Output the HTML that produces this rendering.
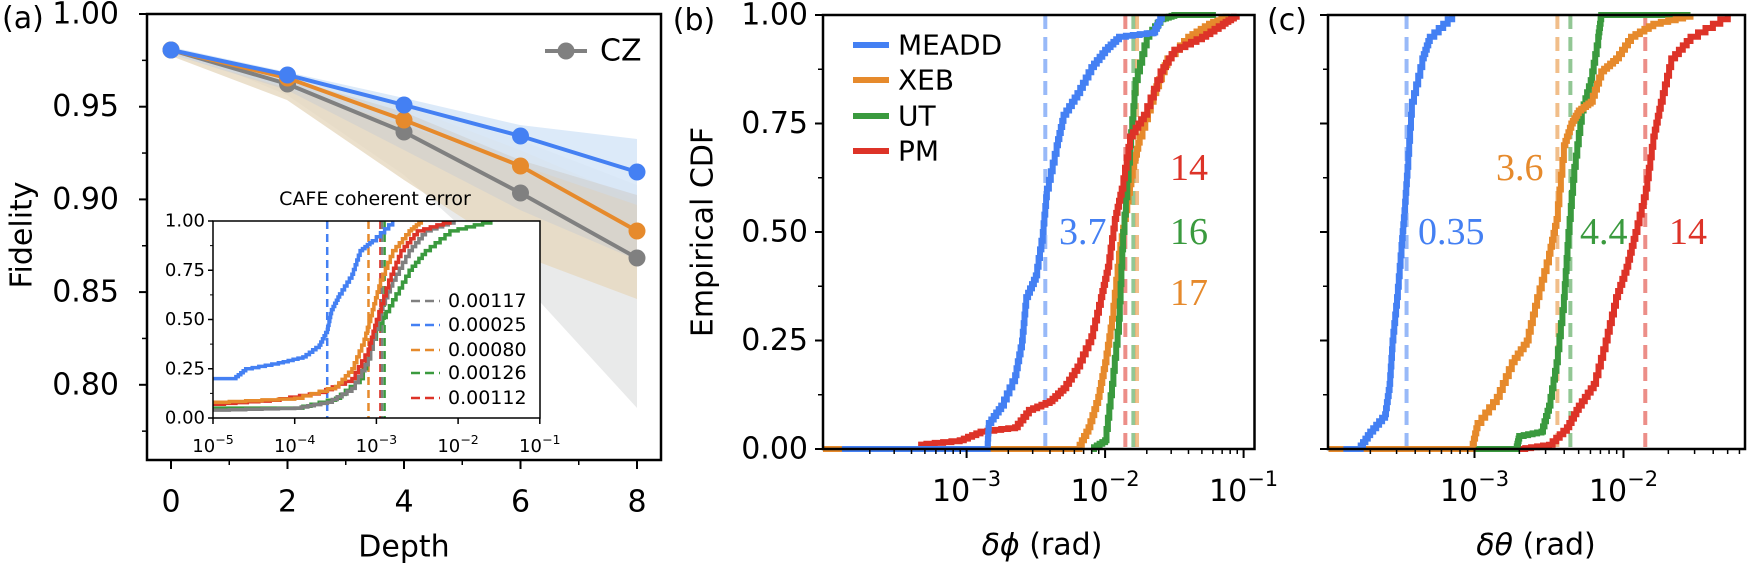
<!DOCTYPE html>
<html><head><meta charset="utf-8"><style>
html,body{margin:0;padding:0;background:#fff;}
svg{display:block;font-family:"DejaVu Sans","Liberation Sans",sans-serif;}
</style></head><body>
<svg id="s" width="1750" height="568" xmlns="http://www.w3.org/2000/svg">
<g id="bands">
<polygon points="171,47 287,95 404,175 520,280 637,408 637,185 520,140 404,104 287,75" fill="#e9eaea"/>
<polygon points="171,48 287,76 404,106 520,150 637,200 637,299 520,255 404,180 287,100 171,56" fill="#e6d8bf" opacity="0.8"/>
<polygon points="171,47 287,72 404,98 520,125 637,139 637,205 520,165 404,125 287,88 171,54" fill="#d6e6f8" opacity="0.85"/>
<polygon points="171,48 287,78 404,112 520,160 637,195 637,260 520,210 404,150 287,90 171,54" fill="#cfcfcf" opacity="0.6"/>
</g>
<text x="2" y="28" font-size="30">(a)</text>
<text x="694" y="30" font-size="30" text-anchor="middle">(b)</text>
<text x="1287" y="30" font-size="30" text-anchor="middle">(c)</text>
</svg>
<script>
const S=document.getElementById('s');const NS='http://www.w3.org/2000/svg';
function el(t,a,txt){const e=document.createElementNS(NS,t);for(const k in a)e.setAttribute(k,a[k]);if(txt!==undefined)e.textContent=txt;S.appendChild(e);return e;}
function line(x1,y1,x2,y2,c,w,extra){return el('line',Object.assign({x1,y1,x2,y2,stroke:c,'stroke-width':w},extra||{}));}
function txt(x,y,s,fs,anchor,extra){return el('text',Object.assign({x,y,'font-size':fs,'text-anchor':anchor||'start','dominant-baseline':'central'},extra||{}),s);}
function pw(x,y,base,exp,fs,anchor){const t=el('text',{x,y,'font-size':fs,'text-anchor':anchor||'middle','dominant-baseline':'central'});
 const a=document.createElementNS(NS,'tspan');a.textContent=base;t.appendChild(a);
 const b=document.createElementNS(NS,'tspan');b.setAttribute('dy',-fs*0.4);b.setAttribute('font-size',fs*0.7);b.textContent=exp;t.appendChild(b);}
const C={b:'#4480f3',o:'#e68a2c',g:'#3a9a3e',r:'#dd3328',k:'#808080'};
function steps(pts,X,Y,n){let d='';let px=X(pts[0][0]),py=Y(pts[0][1]);d='M'+px+','+py;
 for(let i=1;i<pts.length;i++){const [x0,y0]=pts[i-1],[x1,y1]=pts[i];const m=(y1===y0)?1:n;
  for(let j=1;j<=m;j++){const xx=X(x0+(x1-x0)*j/m),yy=Y(y0+(y1-y0)*j/m);d+=' H'+xx.toFixed(1)+' V'+yy.toFixed(1);}}
 return d;}
function curve(pts,X,Y,c,w){el('path',{d:steps(pts,X,Y,5),fill:'none',stroke:c,'stroke-width':w,'stroke-linejoin':'miter'});}
// ---------- Panel (a)
const aY=v=>14+(1-v)/0.05*92.7, aX=d=>171+d*58.25;
const series=[[C.k,[50,84,132,193,258]],[C.o,[50,78,120,166,231]],[C.b,[50,75,105,136,172]]];
for(const [c,ys] of series){el('polyline',{points:ys.map((y,i)=>aX(2*i)+','+y).join(' '),fill:'none',stroke:c,'stroke-width':4});
 ys.forEach((y,i)=>el('circle',{cx:aX(2*i),cy:y,r:8.5,fill:c}));}
el('rect',{x:147,y:14,width:514,height:446,fill:'none',stroke:'#000','stroke-width':2.5});
[1,0.95,0.9,0.85,0.8].forEach(v=>{line(139,aY(v),147,aY(v),'#000',2);txt(119,aY(v),v.toFixed(2),30,'end');});
[0.975,0.925,0.875,0.825,0.775].forEach(v=>line(142,aY(v),147,aY(v),'#000',1.5));
[0,2,4,6,8].forEach(d=>{line(aX(d),460,aX(d),469,'#000',2);txt(aX(d),502,String(d),30,'middle');});
[1,3,5,7].forEach(d=>line(aX(d),460,aX(d),465,'#000',1.5));
txt(404,547,'Depth',30,'middle');
txt(22,235,'Fidelity',30,'middle',{transform:'rotate(-90 22 235)'});
line(545,51,587,51,C.k,4);el('circle',{cx:566,cy:51,r:8.5,fill:C.k});txt(600,51,'CZ',30,'start');
// inset
el('rect',{x:213,y:221,width:327,height:197,fill:'#fff'});
const iX=l=>213+(l+5)*81.7, iY=v=>418-v*197;
const iv=[[C.b,0.00025],[C.o,0.0008],[C.r,0.00112],[C.k,0.00117],[C.g,0.00126]];
iv.forEach(([c,v])=>line(iX(Math.log10(v)),221,iX(Math.log10(v)),418,c,2.5,{'stroke-dasharray':'8,5'}));
curve([[-5,0.05],[-4,0.05],[-3.5,0.1],[-3.2,0.2],[-3,0.45],[-2.8,0.6],[-2.6,0.75],[-2.4,0.85],[-2.1,0.95],[-1.6,1]],iX,iY,C.g,3.5);
curve([[-5,0.04],[-4,0.05],[-3.6,0.08],[-3.3,0.15],[-3.1,0.3],[-2.95,0.55],[-2.8,0.7],[-2.6,0.85],[-2.4,0.95],[-2.05,1]],iX,iY,C.k,3.5);
curve([[-5,0.07],[-4.3,0.09],[-3.7,0.13],[-3.3,0.2],[-3.1,0.35],[-3,0.5],[-2.85,0.7],[-2.7,0.85],[-2.5,0.95],[-2.1,1]],iX,iY,C.r,3.5);
curve([[-5,0.08],[-4,0.1],[-3.5,0.16],[-3.3,0.25],[-3.15,0.4],[-3.05,0.55],[-2.95,0.7],[-2.8,0.85],[-2.6,0.95],[-2.45,1]],iX,iY,C.o,3.5);
curve([[-5,0.2],[-4.75,0.2],[-4.6,0.25],[-4.2,0.28],[-3.9,0.31],[-3.7,0.37],[-3.6,0.45],[-3.55,0.55],[-3.45,0.63],[-3.3,0.73],[-3.2,0.85],[-3.05,0.9],[-2.8,1]],iX,iY,C.b,3.5);
el('rect',{x:213,y:221,width:327,height:197,fill:'none',stroke:'#000','stroke-width':1.5});
[0,0.25,0.5,0.75,1].forEach(v=>{line(208,iY(v),213,iY(v),'#000',1.5);txt(205,iY(v),v.toFixed(2),18,'end');});
[0.125,0.375,0.625,0.875].forEach(v=>line(210,iY(v),213,iY(v),'#000',1));
[-5,-4,-3,-2,-1].forEach(l=>{line(iX(l),418,iX(l),424,'#000',1.5);pw(iX(l),446,'10',String(l).replace('-','−'),18,'middle');});
txt(375,199,'CAFE coherent error',19,'middle');
[[C.k,'0.00117'],[C.b,'0.00025'],[C.o,'0.00080'],[C.g,'0.00126'],[C.r,'0.00112']].forEach(([c,s],i)=>{const y=[301,325,350,373,398][i];
 line(411,y,440,y,c,2.5,{'stroke-dasharray':'9,5'});txt(448,y,s,19,'start');});
// ---------- Panel (b)
const bX=l=>966.6+(l+3)*138.5, Yc=v=>449-v*434;
[[C.r,0.014],[C.g,0.016],[C.o,0.017],[C.b,0.0037]].forEach(([c,v])=>line(bX(Math.log10(v)),15,bX(Math.log10(v)),449,c,4,{'stroke-dasharray':'14,8',opacity:0.55}));
curve([[-4.037,0],[-2.2,0],[-2.12,0.05],[-2.05,0.12],[-2,0.2],[-1.95,0.3],[-1.9,0.45],[-1.85,0.55],[-1.8,0.65],[-1.75,0.72],[-1.65,0.82],[-1.55,0.9],[-1.4,0.95],[-1.25,0.98],[-1.1,1]],bX,Yc,C.o,6);
curve([[-2.1,0],[-2,0.02],[-1.95,0.15],[-1.9,0.3],[-1.87,0.5],[-1.82,0.7],[-1.78,0.85],[-1.7,0.95],[-1.6,0.99],[-1.5,1],[-1.2,1]],bX,Yc,C.g,6);
curve([[-3.35,0.01],[-3.05,0.02],[-2.9,0.04],[-2.65,0.05],[-2.55,0.09],[-2.4,0.11],[-2.3,0.14],[-2.2,0.19],[-2.1,0.26],[-2.03,0.35],[-1.98,0.42],[-1.93,0.53],[-1.88,0.6],[-1.82,0.72],[-1.72,0.77],[-1.6,0.87],[-1.5,0.92],[-1.3,0.95],[-1.15,0.98],[-1.05,1]],bX,Yc,C.r,6);
curve([[-3.9,0],[-2.85,0],[-2.84,0.06],[-2.75,0.1],[-2.65,0.17],[-2.6,0.25],[-2.57,0.35],[-2.5,0.4],[-2.45,0.5],[-2.42,0.6],[-2.35,0.7],[-2.3,0.77],[-2.2,0.82],[-2.1,0.88],[-2,0.92],[-1.9,0.95],[-1.65,0.96],[-1.59,1]],bX,Yc,C.b,6);
el('rect',{x:823,y:15,width:431.5,height:434,fill:'none',stroke:'#000','stroke-width':2.5});
[0,0.25,0.5,0.75,1].forEach(v=>{line(815,Yc(v),823,Yc(v),'#000',2);txt(808,Yc(v),v.toFixed(2),30,'end');});
[0.125,0.375,0.625,0.875].forEach(v=>line(818,Yc(v),823,Yc(v),'#000',1.5));
function logticks(X,lo,hi,xl,xr,minLab){for(let d=Math.floor(lo);d<=hi;d++){for(let k=1;k<10;k++){const l=d+Math.log10(k);const x=X(l);if(x<xl-0.5||x>xr+0.5)continue;
 if(k===1&&d>=minLab){line(x,449,x,458,'#000',2);pw(x,491,'10','−'+(-d),30,'middle');}else if(k!==1)line(x,449,x,454,'#000',1.5);}}}
logticks(bX,-5,-1,823,1254.5,-3);
el('text',{x:1042,y:545,'font-size':30,'text-anchor':'middle','dominant-baseline':'central'}).innerHTML='<tspan font-style="italic">δϕ</tspan> (rad)';
txt(703,232,'Empirical CDF',30,'middle',{transform:'rotate(-90 703 232)'});
[[C.b,'MEADD',45],[C.o,'XEB',80],[C.g,'UT',116],[C.r,'PM',151]].forEach(([c,s,y])=>{line(853,y,889,y,c,6);txt(898,y,s,28,'start');});
const serif={'font-family':'"Liberation Serif",serif'};
txt(1059,232,'3.7',38,'start',Object.assign({fill:C.b},serif));
txt(1170,168,'14',38,'start',Object.assign({fill:C.r},serif));
txt(1170,232,'16',38,'start',Object.assign({fill:C.g},serif));
txt(1170,293,'17',38,'start',Object.assign({fill:C.o},serif));
// ---------- Panel (c)
const cX=l=>1474.5+(l+3)*149;
[[C.b,0.00035],[C.o,0.0036],[C.g,0.0044],[C.r,0.014]].forEach(([c,v])=>line(cX(Math.log10(v)),15,cX(Math.log10(v)),449,c,4,{'stroke-dasharray':'14,8',opacity:0.55}));
curve([[-2.7,0],[-2.5,0.01],[-2.38,0.05],[-2.3,0.1],[-2.2,0.15],[-2.12,0.25],[-2.05,0.35],[-1.98,0.42],[-1.92,0.5],[-1.85,0.6],[-1.8,0.72],[-1.75,0.8],[-1.68,0.9],[-1.55,0.95],[-1.3,1]],cX,Yc,C.r,6);
curve([[-3.02,0],[-2.72,0],[-2.7,0.03],[-2.55,0.04],[-2.5,0.1],[-2.45,0.2],[-2.4,0.35],[-2.37,0.5],[-2.33,0.65],[-2.28,0.78],[-2.22,0.85],[-2.17,0.95],[-2.15,1],[-1.55,1]],cX,Yc,C.g,6);
curve([[-3.98,0],[-3.02,0],[-2.98,0.06],[-2.85,0.12],[-2.75,0.2],[-2.65,0.25],[-2.58,0.35],[-2.5,0.45],[-2.45,0.53],[-2.4,0.7],[-2.35,0.75],[-2.3,0.78],[-2.22,0.8],[-2.15,0.87],[-2.05,0.9],[-1.95,0.95],[-1.8,0.98],[-1.55,1]],cX,Yc,C.o,6);
curve([[-3.88,0],[-3.78,0],[-3.7,0.04],[-3.6,0.08],[-3.57,0.15],[-3.55,0.25],[-3.52,0.35],[-3.49,0.47],[-3.47,0.55],[-3.45,0.65],[-3.42,0.8],[-3.35,0.9],[-3.3,0.95],[-3.15,1]],cX,Yc,C.b,6);
el('rect',{x:1328,y:15,width:417,height:434,fill:'none',stroke:'#000','stroke-width':2.5});
[0,0.25,0.5,0.75,1].forEach(v=>line(1320,Yc(v),1328,Yc(v),'#000',2));
[0.125,0.375,0.625,0.875].forEach(v=>line(1323,Yc(v),1328,Yc(v),'#000',1.5));
logticks(cX,-5,-1,1328,1745,-3);
el('text',{x:1536,y:545,'font-size':30,'text-anchor':'middle','dominant-baseline':'central'}).innerHTML='<tspan font-style="italic">δθ</tspan> (rad)';
txt(1418,232,'0.35',38,'start',Object.assign({fill:C.b},serif));
txt(1496,168,'3.6',38,'start',Object.assign({fill:C.o},serif));
txt(1580,232,'4.4',38,'start',Object.assign({fill:C.g},serif));
txt(1669,232,'14',38,'start',Object.assign({fill:C.r},serif));
</script>
</body></html>
